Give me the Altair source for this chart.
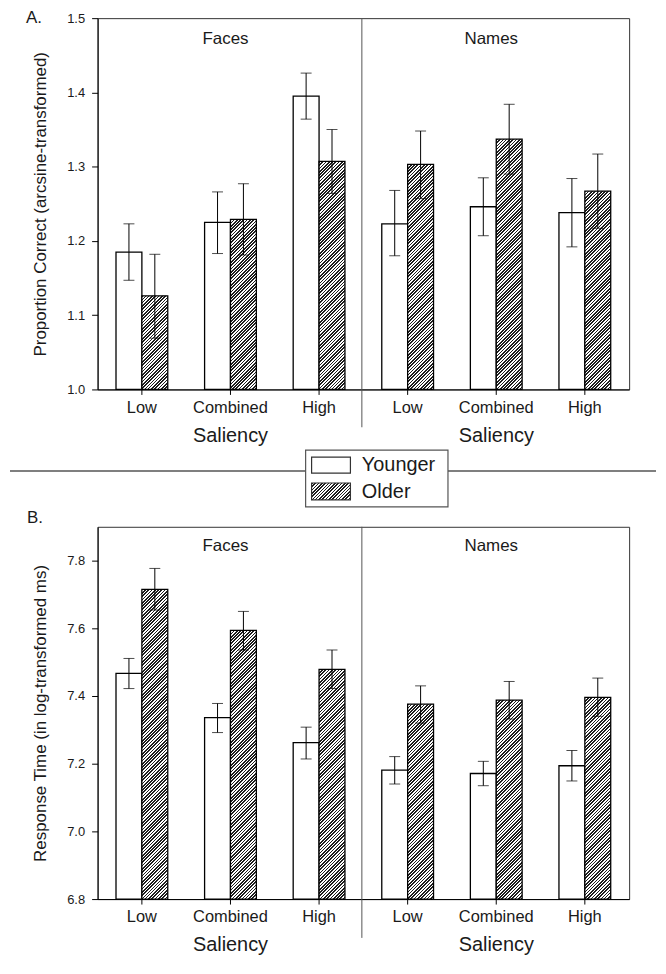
import altair as alt
import pandas as pd

# ---------------- data ----------------
materials = ["Faces", "Names"]
saliency = ["Low", "Combined", "High"]
groups = ["Younger", "Older"]

# Panel A: proportion correct (arcsine-transformed); order Faces L/C/H, Names L/C/H
acc_younger = [1.185, 1.225, 1.395, 1.223, 1.246, 1.238]
acc_younger_lo = [1.147, 1.183, 1.364, 1.180, 1.207, 1.192]
acc_younger_hi = [1.223, 1.266, 1.426, 1.268, 1.285, 1.284]
acc_older = [1.126, 1.229, 1.307, 1.303, 1.337, 1.267]
acc_older_lo = [1.069, 1.181, 1.264, 1.257, 1.290, 1.217]
acc_older_hi = [1.182, 1.277, 1.350, 1.348, 1.384, 1.317]

# Panel B: response time (log-transformed ms)
rt_younger = [7.467, 7.336, 7.262, 7.181, 7.171, 7.194]
rt_younger_lo = [7.422, 7.292, 7.214, 7.140, 7.135, 7.149]
rt_younger_hi = [7.511, 7.378, 7.308, 7.221, 7.207, 7.239]
rt_older = [7.715, 7.594, 7.479, 7.376, 7.388, 7.396]
rt_older_lo = [7.654, 7.536, 7.422, 7.320, 7.332, 7.340]
rt_older_hi = [7.777, 7.650, 7.536, 7.430, 7.443, 7.453]

acc_ticks = [1.0, 1.1, 1.2, 1.3, 1.4, 1.5]
rt_ticks = [6.8, 7.0, 7.2, 7.4, 7.6, 7.8]

keys = [f"{m}|{s}" for m in materials for s in saliency]

FONT = "Liberation Sans"
INK = "#1a1a1a"
W = 534
STEP = W / 6.0
BAR_W = 26.0
P_IN = 1 - 2 * BAR_W / STEP


def make_df(yv, ylo, yhi, ov, olo, ohi):
    rows = []
    for i, k in enumerate(keys):
        rows.append({"key": k, "group": "Younger", "value": yv[i], "lo": ylo[i], "hi": yhi[i]})
        rows.append({"key": k, "group": "Older", "value": ov[i], "lo": olo[i], "hi": ohi[i]})
    return pd.DataFrame(rows)


def hatch(w, h, period=3.3, dark=0.5, color="#1e1e1e"):
    L = w + h
    c = L / (w * w + h * h)
    stops = []
    k = 0
    while k * period < L:
        a = k * period / L
        b = min((k * period + dark * period) / L, 1.0)
        e = min((k + 1) * period / L, 1.0)
        stops += [
            {"offset": a, "color": color},
            {"offset": b, "color": color},
            {"offset": b, "color": "white"},
            {"offset": e, "color": "white"},
        ]
        k += 1
    return {"gradient": "linear", "x1": 0, "y1": 0, "x2": c * w, "y2": c * h, "stops": stops}


one = pd.DataFrame({"a": [0]})


def panel(df, ymin, ymax, ticks, ytitle, H, letter, letter_xy, label_y, div_len, extra=()):
    X = alt.X(
        "key:N",
        scale=alt.Scale(domain=keys, paddingInner=P_IN, paddingOuter=P_IN / 2),
        axis=alt.Axis(
            title=None,
            labelExpr="split(datum.label, '|')[1]",
            labelFontSize=16.5,
            labelAngle=0,
            tickSize=5,
            labelPadding=5,
            domainColor="black",
            tickColor="black",
            labelColor=INK,
        ),
    )
    XO = alt.XOffset("group:N", scale=alt.Scale(domain=groups, paddingInner=0, paddingOuter=0))
    Y = alt.Y(
        "value:Q",
        scale=alt.Scale(domain=[ymin, ymax], nice=False, zero=False),
        axis=alt.Axis(
            values=ticks,
            format=".1f",
            title=ytitle,
            titleFontSize=17,
            titleFontWeight="normal",
            titleColor=INK,
            labelFontSize=13,
            labelColor=INK,
            tickSize=6,
            labelPadding=7,
            titlePadding=17,
            grid=False,
            domainColor="black",
            tickColor="black",
        ),
    )
    base = alt.Chart(df)
    layers = []
    young = base.transform_filter(alt.datum.group == "Younger").mark_bar(
        fill="white", stroke="black", strokeWidth=1.3
    ).encode(x=X, xOffset=XO, y=Y, y2=alt.datum(ymin))
    layers.append(young)
    older_rows = df[df.group == "Older"]
    for _, r in older_rows.iterrows():
        h = (r["value"] - ymin) / (ymax - ymin) * H
        lay = base.transform_filter(
            (alt.datum.group == "Older") & (alt.datum.key == r["key"])
        ).mark_bar(fill=hatch(BAR_W, h), stroke="black", strokeWidth=1.3).encode(
            x=X, xOffset=XO, y=Y, y2=alt.datum(ymin)
        )
        layers.append(lay)
    err = base.mark_rule(color="black", strokeWidth=1).encode(
        x=X, xOffset=XO, y=alt.Y("lo:Q"), y2="hi:Q"
    )
    cap_lo = base.mark_tick(color="black", thickness=1, size=11).encode(x=X, xOffset=XO, y=alt.Y("lo:Q"))
    cap_hi = base.mark_tick(color="black", thickness=1, size=11).encode(x=X, xOffset=XO, y=alt.Y("hi:Q"))
    layers += [err, cap_lo, cap_hi]

    mat_df = pd.DataFrame({"key": [f"{m}|Combined" for m in materials], "label": materials})
    mat_text = alt.Chart(mat_df).mark_text(
        fontSize=17, color=INK, baseline="alphabetic", dx=-5
    ).encode(x=alt.X("key:N"), y=alt.value(label_y), text="label:N")
    sal_df = pd.DataFrame({"key": [f"{m}|Combined" for m in materials], "label": ["Saliency", "Saliency"]})
    sal_text = alt.Chart(sal_df).mark_text(
        fontSize=20, color=INK, baseline="alphabetic"
    ).encode(x=alt.X("key:N"), y=alt.value(H + 52.5), text="label:N")
    divider = alt.Chart(one).mark_rule(color="#555555", strokeWidth=1).encode(
        x=alt.value(265.5), y=alt.value(0), y2=alt.value(H + div_len)
    )
    let = alt.Chart(one).mark_text(
        fontSize=17, color=INK, align="left", baseline="middle"
    ).encode(x=alt.value(letter_xy[0]), y=alt.value(letter_xy[1]), text=alt.value(letter))
    layers += [mat_text, sal_text, divider, let]
    layers += list(extra)
    return alt.layer(*layers).properties(width=W, height=H)


# legend + separator (coordinates relative to top panel plot origin)
sep_l = alt.Chart(one).mark_rule(color="#555555", strokeWidth=1.5).encode(
    x=alt.value(-88), x2=alt.value(209), y=alt.value(455)
)
sep_r = alt.Chart(one).mark_rule(color="#555555", strokeWidth=1.5).encode(
    x=alt.value(352), x2=alt.value(561), y=alt.value(455)
)
leg_box = alt.Chart(one).mark_rect(fill="white", stroke="#555555", strokeWidth=1.2).encode(
    x=alt.value(209), x2=alt.value(352), y=alt.value(434), y2=alt.value(491)
)
leg_y = alt.Chart(one).mark_rect(fill="white", stroke="#333333", strokeWidth=1.2).encode(
    x=alt.value(215), x2=alt.value(254), y=alt.value(441), y2=alt.value(457)
)
leg_o = alt.Chart(one).mark_rect(fill=hatch(39, 17), stroke="#333333", strokeWidth=1.2).encode(
    x=alt.value(215), x2=alt.value(254), y=alt.value(467), y2=alt.value(484)
)
leg_t = alt.Chart(pd.DataFrame({"label": groups, "yy": [449, 476]})).mark_text(
    fontSize=20, color=INK, align="left", baseline="middle"
).encode(x=alt.value(265.5), y=alt.Y("yy:Q", scale=None), text="label:N")

df_a = make_df(acc_younger, acc_younger_lo, acc_younger_hi, acc_older, acc_older_lo, acc_older_hi)
df_b = make_df(rt_younger, rt_younger_lo, rt_younger_hi, rt_older, rt_older_lo, rt_older_hi)

top = panel(
    df_a, 1.0, 1.5, acc_ticks, "Proportion Correct (arcsine-transformed)", 373,
    "A.", (-72, 0.2), 25.7, 38, extra=[sep_l, sep_r, leg_box, leg_y, leg_o, leg_t],
)
bottom = panel(
    df_b, 6.8, 7.9, rt_ticks, "Response Time (in log-transformed ms)", 374,
    "B.", (-71, -9), 24.7, 39,
)

chart = (
    alt.vconcat(top, bottom, spacing=138, bounds="flush")
    .properties(padding={"top": -2, "left": 0, "right": 0, "bottom": 0})
    .resolve_scale(y="independent", x="independent")
    .configure_view(stroke="#333333", strokeWidth=1)
    .configure_axis(labelFont=FONT, titleFont=FONT)
    .configure_text(font=FONT)
)

chart.save("out.html", embed_options={"renderer": "svg", "actions": False})
